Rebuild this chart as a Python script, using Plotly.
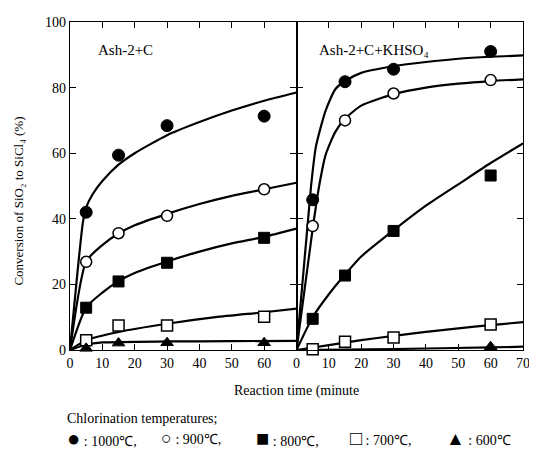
import plotly.graph_objects as go

# ---- measured points (reaction time in minutes, conversion %) ----
time_pts = [5, 15, 30, 60]

# Ash-2+C (left panel)
a_1000 = [42, 59.4, 68.4, 71.3]
a_900 = [26.9, 35.6, 40.9, 49.0]
a_800 = [12.9, 20.9, 26.6, 34.2]
a_700 = [3.0, 7.5, 7.5, 10.1]
a_600 = [0.5, 2.1, 2.2, 2.2]

# Ash-2+C+KHSO4 (right panel)
b_1000 = [45.8, 81.8, 85.6, 91.0]
b_900 = [37.8, 70.0, 78.2, 82.3]
b_800 = [9.5, 22.7, 36.3, 53.2]
b_700 = [0.2, 2.5, 3.8, 7.8]
b_600 = [None, -0.5, -0.6, 1.0]

# ---- fitted curves ----
ca_1000_t = [0, 4, 5, 7, 10, 15, 20, 30, 40, 50, 60, 70]
ca_1000_v = [0, 39, 43.5, 47.5, 51.5, 56.5, 60, 65.5, 69.5, 73, 76, 78.5]
ca_900_t = [0, 5, 10, 15, 20, 30, 40, 50, 60, 70]
ca_900_v = [0, 27, 32, 35.5, 38, 41.5, 44.5, 47, 49, 51]
ca_800_t = [0, 5, 10, 15, 20, 30, 40, 50, 60, 70]
ca_800_v = [0, 13, 17.5, 21, 23.5, 27, 30, 32.5, 34.5, 37]
ca_700_t = [0, 5, 15, 30, 45, 60, 70]
ca_700_v = [0, 3, 5.5, 8, 10, 11.5, 12.6]
ca_600_t = [0, 5, 10, 30, 50, 70]
ca_600_v = [0, 1.6, 2.3, 2.6, 2.7, 2.8]

cb_1000_t = [0, 4.5, 6, 9, 12, 15, 20, 30, 40, 50, 60, 70]
cb_1000_v = [0, 50, 62, 73, 79.5, 82, 84.5, 86.5, 87.8, 88.8, 89.4, 89.8]
cb_900_t = [0, 5, 7, 9, 12, 15, 20, 30, 40, 50, 60, 70]
cb_900_v = [0, 37, 50, 59.5, 66.5, 70.5, 74.5, 78, 80, 81.2, 82, 82.5]
cb_800_t = [0, 5, 10, 15, 20, 30, 40, 50, 60, 70]
cb_800_v = [0, 10, 17, 23, 28.5, 36.5, 44, 50.5, 57, 63]
cb_700_t = [0, 10, 20, 30, 40, 50, 60, 70]
cb_700_v = [0, 1.5, 3, 4.3, 5.5, 6.6, 7.6, 8.5]
cb_600_t = [0, 30, 60, 70]
cb_600_v = [0, 0.3, 0.8, 1.0]

x_ticks_left = [0, 10, 20, 30, 40, 50, 60]
x_ticks_right = [0, 10, 20, 30, 40, 50, 60, 70]
y_ticks = [0, 20, 40, 60, 80, 100]

legend_symbols = ["●", "○", "■", "□", "▲"]
legend_labels = ["1000℃,", "900℃,", "800℃,", "700℃,", "600℃"]

SERIF = "Liberation Serif"

fig = go.Figure()

curves = [
    (ca_1000_t, ca_1000_v, "x", "y"), (ca_900_t, ca_900_v, "x", "y"),
    (ca_800_t, ca_800_v, "x", "y"), (ca_700_t, ca_700_v, "x", "y"),
    (ca_600_t, ca_600_v, "x", "y"),
    (cb_1000_t, cb_1000_v, "x2", "y2"), (cb_900_t, cb_900_v, "x2", "y2"),
    (cb_800_t, cb_800_v, "x2", "y2"), (cb_700_t, cb_700_v, "x2", "y2"),
    (cb_600_t, cb_600_v, "x2", "y2"),
]
for t, v, xa, ya in curves:
    fig.add_trace(go.Scatter(x=t, y=v, mode="lines", xaxis=xa, yaxis=ya,
                             line=dict(color="black", width=2.2, shape="spline", smoothing=0.6),
                             showlegend=False, hoverinfo="skip"))

styles = {
    "1000": dict(symbol="circle", size=12, color="black", line=dict(color="black", width=1)),
    "900": dict(symbol="circle", size=11, color="white", line=dict(color="black", width=1.5)),
    "800": dict(symbol="square", size=11, color="black", line=dict(color="black", width=1)),
    "700": dict(symbol="square", size=11, color="white", line=dict(color="black", width=1.5)),
    "600": dict(symbol="triangle-up", size=11, color="black", line=dict(color="black", width=1)),
}
points = [
    (a_1000, "1000", "x", "y"), (a_900, "900", "x", "y"), (a_800, "800", "x", "y"),
    (a_700, "700", "x", "y"), (a_600, "600", "x", "y"),
    (b_1000, "1000", "x2", "y2"), (b_900, "900", "x2", "y2"), (b_800, "800", "x2", "y2"),
    (b_700, "700", "x2", "y2"), (b_600, "600", "x2", "y2"),
]
for v, key, xa, ya in points:
    fig.add_trace(go.Scatter(x=time_pts, y=v, mode="markers", xaxis=xa, yaxis=ya,
                             marker=styles[key], cliponaxis=False, showlegend=False))

axis_common = dict(showline=True, linecolor="black", linewidth=1.3, mirror="ticks",
                   ticks="inside", ticklen=6, tickwidth=1.2, tickcolor="black",
                   showgrid=False, zeroline=False,
                   tickfont=dict(family=SERIF, size=14, color="black"))

# the page body adds an 8px margin, so the figure is 8px smaller than the window
fig.update_layout(
    width=529, height=442,
    margin=dict(l=62, r=7, t=7, b=100),
    paper_bgcolor="white", plot_bgcolor="white",
    font=dict(family=SERIF, color="black"),
    xaxis=dict(domain=[0, 0.5], range=[0, 70], tickvals=x_ticks_left, anchor="y", **axis_common),
    xaxis2=dict(domain=[0.5, 1], range=[0, 70], tickvals=x_ticks_right, anchor="y2", **axis_common),
    yaxis=dict(range=[0, 100], tickvals=y_ticks, anchor="x", **axis_common),
    yaxis2=dict(range=[0, 100], tickvals=y_ticks, anchor="x2", showticklabels=False, **axis_common),
    showlegend=False,
)

anns = [
    dict(text="Ash-2+C", x=0.058, y=0.915, xanchor="left", yanchor="middle", font_size=15),
    dict(text="Ash-2+C+KHSO₄", x=0.545, y=0.915, xanchor="left", yanchor="middle", font_size=15),
    dict(text="Reaction time (minute", x=0.5, y=-0.125, xanchor="center", yanchor="middle", font_size=14),
    dict(text="Chlorination temperatures;", x=-0.012, y=-0.209, xanchor="left", yanchor="middle", font_size=14),
    dict(text="Conversion of SiO₂ to SiCl₄ (%)", x=-0.113, y=0.455, textangle=-90,
         xanchor="center", yanchor="middle", font_size=13),
]
legend_x = [-0.011, 0.196, 0.4065, 0.613, 0.826]
sym_sizes = [22, 18, 22, 20, 19]
for sx, sym, lab, ss in zip(legend_x, legend_symbols, legend_labels, sym_sizes):
    anns.append(dict(text=f'<span style="font-size:{ss}px">{sym}</span> : {lab}',
                     x=sx, y=-0.269, xanchor="left", yanchor="middle", font_size=14))

for a in anns:
    fs = a.pop("font_size")
    fig.add_annotation(xref="paper", yref="paper", showarrow=False,
                       font=dict(family=SERIF, size=fs, color="black"), **a)

fig.write_html("out.html")
